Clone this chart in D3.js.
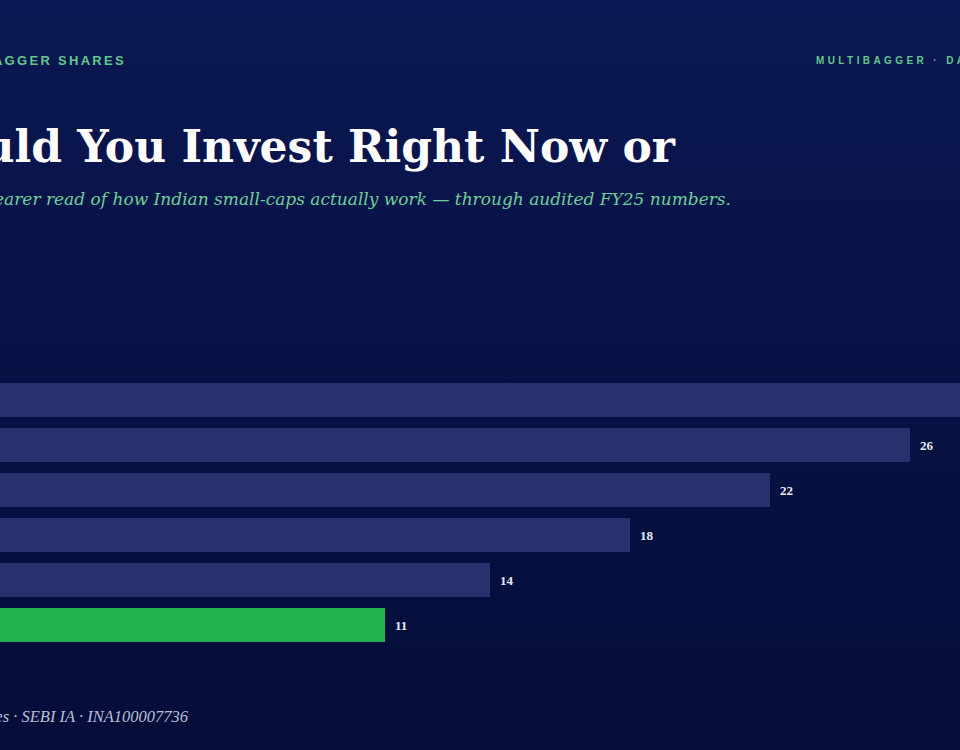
<!DOCTYPE html>
<html><head><meta charset="utf-8">
<script src="https://cdn.jsdelivr.net/npm/d3@7"></script>
<style>body{margin:0;background:#060f40}svg{display:block}</style>
</head><body>
<div id="chart"></div>
<script>
const categories = ["A", "B", "C", "D", "E", "F"];
const values = [30, 26, 22, 18, 14, 11];
const highlight = [false, false, false, false, false, true];

const W = 960, H = 750;
const svg = d3.select("#chart").append("svg").attr("width", W).attr("height", H);

const defs = svg.append("defs");
const grad = defs.append("linearGradient").attr("id", "bg").attr("x1", 0).attr("y1", 0).attr("x2", 0).attr("y2", 1);
grad.append("stop").attr("offset", 0).attr("stop-color", "#0b1752");
grad.append("stop").attr("offset", 1).attr("stop-color", "#040d38");
svg.append("rect").attr("width", W).attr("height", H).attr("fill", "url(#bg)");

// header
svg.append("text").attr("x", 126).attr("y", 65).attr("text-anchor", "end")
  .attr("font-family", "Liberation Sans, Arial, sans-serif").attr("font-weight", "bold")
  .attr("font-size", 13).attr("letter-spacing", 2.3).attr("fill", "#5fc98a")
  .text("MULTIBAGGER SHARES");
svg.append("text").attr("x", 816).attr("y", 64)
  .attr("font-family", "Liberation Sans, Arial, sans-serif").attr("font-weight", "bold")
  .attr("font-size", 10).attr("letter-spacing", 3.4).attr("fill", "#5fc98a")
  .text("MULTIBAGGER · DATA");

svg.append("text").attr("x", 675).attr("y", 162).attr("text-anchor", "end")
  .attr("font-family", "DejaVu Serif, Georgia, serif").attr("font-weight", "bold")
  .attr("font-size", 44).attr("fill", "#ffffff")
  .text("Should You Invest Right Now or");
svg.append("text").attr("x", 731).attr("y", 205).attr("text-anchor", "end")
  .attr("font-family", "DejaVu Serif, Georgia, serif").attr("font-style", "italic")
  .attr("font-size", 17).attr("fill", "#6fcf97")
  .text("A clearer read of how Indian small-caps actually work — through audited FY25 numbers.");

// bars
const x = d3.scaleLinear().domain([0, 26]).range([0, 910]);
const y = d3.scaleBand().domain(categories).range([383, 642]).paddingInner(0.244).paddingOuter(0);

svg.selectAll(".bar").data(values).enter().append("rect")
  .attr("x", 0).attr("y", (d, i) => y(categories[i]))
  .attr("width", d => x(d)).attr("height", y.bandwidth())
  .attr("fill", (d, i) => highlight[i] ? "#22b24f" : "#28316e");

svg.selectAll(".lbl").data(values).enter().append("text")
  .attr("x", d => x(d) + 10).attr("y", (d, i) => y(categories[i]) + y.bandwidth() / 2 + 5)
  .attr("font-family", "Liberation Serif, Georgia, serif").attr("font-weight", "bold")
  .attr("font-size", 13).attr("fill", "#e8eaf5")
  .text(d => d);

svg.append("text").attr("x", 188).attr("y", 722).attr("text-anchor", "end")
  .attr("font-family", "Liberation Serif, Georgia, serif").attr("font-style", "italic")
  .attr("font-size", 16.5).attr("fill", "#b8bfd8")
  .text("Multibagger Shares · SEBI IA · INA100007736");
</script>
</body></html>
